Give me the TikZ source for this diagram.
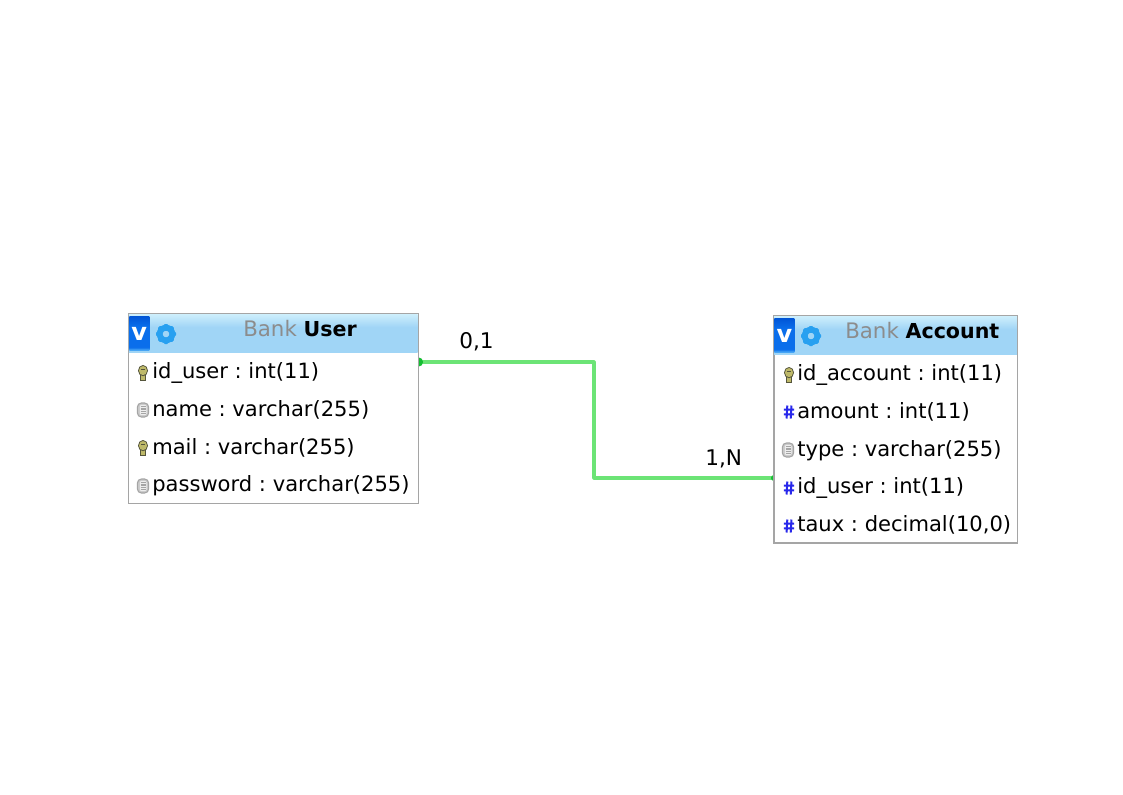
\documentclass[tikz,border=0pt]{standalone}
\usepackage{fontspec}
\setmainfont{DejaVu Sans}
\frenchspacing
\definecolor{hdrtop}{RGB}{205,238,252}
\definecolor{hdrbot}{RGB}{160,213,246}
\definecolor{bordergray}{RGB}{165,165,165}
\definecolor{badgetop}{RGB}{0,85,215}
\definecolor{badgemid}{RGB}{10,110,235}
\definecolor{badgelow}{RGB}{70,165,245}
\definecolor{gearblue}{RGB}{40,160,240}
\definecolor{relgreen}{RGB}{108,228,118}
\definecolor{portgreen}{RGB}{20,190,50}
\definecolor{bankgray}{RGB}{140,140,140}
\definecolor{keygold}{RGB}{190,185,105}
\definecolor{keydark}{RGB}{85,85,60}
\definecolor{docgray}{RGB}{200,200,200}
\definecolor{docedge}{RGB}{165,165,165}
\definecolor{hashblue}{RGB}{40,40,235}
\pgfdeclareverticalshading{hdrshade}{100bp}{
  color(0bp)=(hdrbot); color(25bp)=(hdrbot); color(58bp)=(hdrbot); color(75bp)=(hdrtop); color(100bp)=(hdrtop)}
\pgfdeclareverticalshading{badgeshade}{100bp}{
  color(0bp)=(badgelow); color(27bp)=(badgelow); color(30bp)=(badgemid); color(60bp)=(badgemid); color(75bp)=(badgetop); color(100bp)=(badgetop)}
\newfontface\boldtitle[Scale=0.965]{DejaVu Sans Bold}
\tikzset{
  tablebox/.style={draw=bordergray,line width=1.1pt,fill=white,rectangle,inner sep=0pt,anchor=north west},
  hdrbox/.style={rectangle,inner sep=0pt,anchor=north west,shading=hdrshade},
  badge/.style={rectangle,inner sep=0pt,shading=badgeshade,anchor=north west,minimum width=15pt,minimum height=26pt,text=white,font=\fontsize{18}{18}\selectfont\bfseries},
  rowtext/.style={anchor=base west,inner sep=0pt,font=\fontsize{15.8}{18}\selectfont},
  titletext/.style={anchor=base west,inner sep=0pt,font=\fontsize{16}{18}\selectfont},
  cardtext/.style={anchor=base west,inner sep=0pt,font=\fontsize{16.2}{18}\selectfont},
  relline/.style={draw=relgreen,line width=2.3pt,line join=round},
  portdot/.style={circle,inner sep=0pt,minimum size=0pt},
  keyicon/.pic={
    \fill[keydark] (-3,0) rectangle (3,8);
    \fill[keygold] (-1.8,0) rectangle (1.6,6.8);
    \fill[keydark] (0,-2.4) ellipse (5 and 5.6);
    \fill[keygold] (0,-2.4) ellipse (4 and 4.6);
    \fill[keydark] (-1.9,-4.2) rectangle (1.9,-3);
  },
  docicon/.pic={
    \fill[docgray,draw=docedge,line width=.8pt,rounded corners=3pt] (-5.6,-7) rectangle (5.6,7);
    \fill[white!70!docgray,rounded corners=1pt] (-3.2,-5.2) rectangle (3.5,5.2);
    \foreach \yy in {-3.2,-1,1.2,3.4} \draw[docedge,line width=.8pt] (-2.3,\yy) -- (2.6,\yy);
  },
  hashicon/.pic={
    \draw[hashblue,line width=1.5pt] (-1.7,-6.5) -- (-2.4,6.5) (2.4,-6.5) -- (1.7,6.5) (-5.2,-2.3) -- (5.2,-2.3) (-5.2,2.3) -- (5.2,2.3);
  },
  gearicon/.pic={
    \draw[gearblue,line width=4.4pt] (0,0) circle (6.3);
    \foreach \aa in {0,45,...,315} \fill[gearblue,rotate=\aa,rounded corners=1pt] (-2.4,-10) rectangle (2.4,-7);
  }
}
\begin{document}
\begin{tikzpicture}[x=0.75pt,y=-0.75pt]
\useasboundingbox (0,0) rectangle (1123,794);
% connector, its end markers half hidden by the tables
\node[portdot] (userport) at (418.5,362) {};
\node[portdot] (acctport) at (774,478) {};
\coordinate (bendA) at (594,362);
\coordinate (bendB) at (594,478);
\draw[relline] (userport.center) -- (bendA) -- (bendB) -- (acctport.center);
\fill[portgreen] (userport.center) circle (4.6);
\fill[portgreen] (acctport.center) circle (3);
% User table
\node[tablebox,minimum width=217.5pt,minimum height=142.5pt] (user) at (128,313) {};
\node[hdrbox,minimum width=216.5pt,minimum height=28.5pt] (userhdr) at (128.7,314) {};
\node[badge] (userbadge) at (129,316) {v};
\pic at (166,334) {gearicon};
\node[titletext] (usertitle) at (243,336) {\textcolor{bankgray}{Bank} {\boldtitle User}};
\pic at (143,373) {keyicon};
\node[rowtext] (u1) at (152,378) {id\_user : int(11)};
\pic at (143,410) {docicon};
\node[rowtext] (u2) at (152,416) {name : varchar(255)};
\pic at (143,448) {keyicon};
\node[rowtext] (u3) at (152,454) {mail : varchar(255)};
\pic at (143,486) {docicon};
\node[rowtext] (u4) at (152,491) {password : varchar(255)};
% Account table
\node[tablebox,minimum width=182.7pt,minimum height=170.5pt] (account) at (773.2,315) {};
\node[hdrbox,minimum width=182pt,minimum height=28.5pt] (accthdr) at (773.9,316) {};
\node[badge] (acctbadge) at (774.2,318) {v};
\pic at (811,336) {gearicon};
\node[titletext] (accttitle) at (845,338) {\textcolor{bankgray}{Bank} {\boldtitle Account}};
\pic at (789,375) {keyicon};
\node[rowtext] (a1) at (797,380) {id\_account : int(11)};
\pic at (789,412) {hashicon};
\node[rowtext] (a2) at (797,418) {amount : int(11)};
\pic at (788,450) {docicon};
\node[rowtext] (a3) at (797,456) {type : varchar(255)};
\pic at (789,488) {hashicon};
\node[rowtext] (a4) at (797,493) {id\_user : int(11)};
\pic at (789,526) {hashicon};
\node[rowtext] (a5) at (797,531) {taux : decimal(10,0)};
% cardinalities
\node[cardtext] (cardA) at (459,348) {0,1};
\node[cardtext] (cardB) at (705,465) {1,N};
\end{tikzpicture}
\end{document}
